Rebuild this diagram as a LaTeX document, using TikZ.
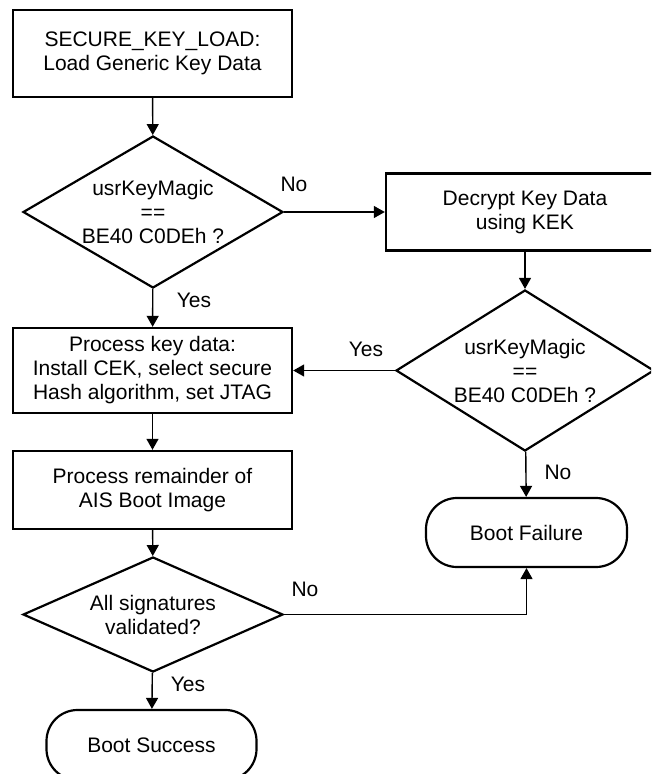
\documentclass[tikz,border=0pt]{standalone}
\usepackage{fontspec}
\setmainfont{Liberation Sans}
\usetikzlibrary{shapes.geometric,arrows.meta}

\tikzset{
  txt/.style={font=\fontsize{21}{24}\selectfont, align=center, text=black},
  procbox/.style={txt, draw, line width=2.4pt, rectangle, inner sep=0pt},
  decision/.style={txt, draw, line width=2.2pt, diamond, inner sep=0pt},
  terminal/.style={txt, draw, line width=2.2pt, rectangle, rounded corners=31pt, inner sep=0pt},
  flow/.style={line width=1.4pt, -{Triangle[length=11pt,width=12pt]}},
  lbl/.style={txt, inner sep=0pt}
}

\begin{document}
\begin{tikzpicture}[x=1pt, y=-1pt]
  \useasboundingbox (0,0) rectangle (651,774);
  \clip (0,0) rectangle (651,774);
  \fill[white] (0,0) rectangle (651,774);

  % left column
  \node[procbox, minimum width=279pt, minimum height=87pt] (load) at (152.5,53.5)
    {SECURE\_KEY\_LOAD:\\Load Generic Key Data};
  \node[decision, minimum width=260pt, minimum height=152pt, aspect=1.71] (magic1) at (153,212)
    {usrKeyMagic\\==\\BE40 C0DEh ?};
  \node[procbox, minimum width=279pt, minimum height=85pt] (install) at (152.5,370.5)
    {Process key data:\\Install CEK, select secure\\Hash algorithm, set JTAG};
  \node[procbox, minimum width=279pt, minimum height=78pt] (remain) at (152.5,490)
    {Process remainder of\\AIS Boot Image};
  \node[decision, minimum width=260pt, minimum height=115pt, aspect=2.26] (sigs) at (153,614.5)
    {All signatures\\validated?};
  \node[terminal, minimum width=210pt, minimum height=70pt] (success) at (151.5,745)
    {Boot Success};

  % right column
  \node[procbox, minimum width=278pt, minimum height=77pt] (decrypt) at (525,212)
    {Decrypt Key Data\\using KEK};
  \node[decision, minimum width=258pt, minimum height=161pt, aspect=1.6] (magic2) at (525,370.5)
    {usrKeyMagic\\==\\BE40 C0DEh ?};
  \node[terminal, minimum width=201pt, minimum height=69pt] (fail) at (526.5,532.5)
    {Boot Failure};

  % connectors
  \draw[flow] (load) -- (magic1);
  \draw[flow] (magic1.east) -- (decrypt.west);
  \draw[flow] (magic1) -- (install);
  \draw[flow] (decrypt) -- (magic2);
  \draw[flow] (magic2.west) -- (install.east);
  \draw[flow] (magic2) -- (fail);
  \draw[flow] (install) -- (remain);
  \draw[flow] (remain) -- (sigs);
  \draw[flow] (sigs) -- (success);
  \draw[flow] (sigs.east) -| (fail.south);

  % branch labels
  \node[lbl] (no1) at (294,184) {No};
  \node[lbl] (yes1) at (194,300) {Yes};
  \node[lbl] (yes2) at (366,349) {Yes};
  \node[lbl] (no2) at (558,472) {No};
  \node[lbl] (no3) at (305,589) {No};
  \node[lbl] (yes3) at (188,684) {Yes};
\end{tikzpicture}
\end{document}
